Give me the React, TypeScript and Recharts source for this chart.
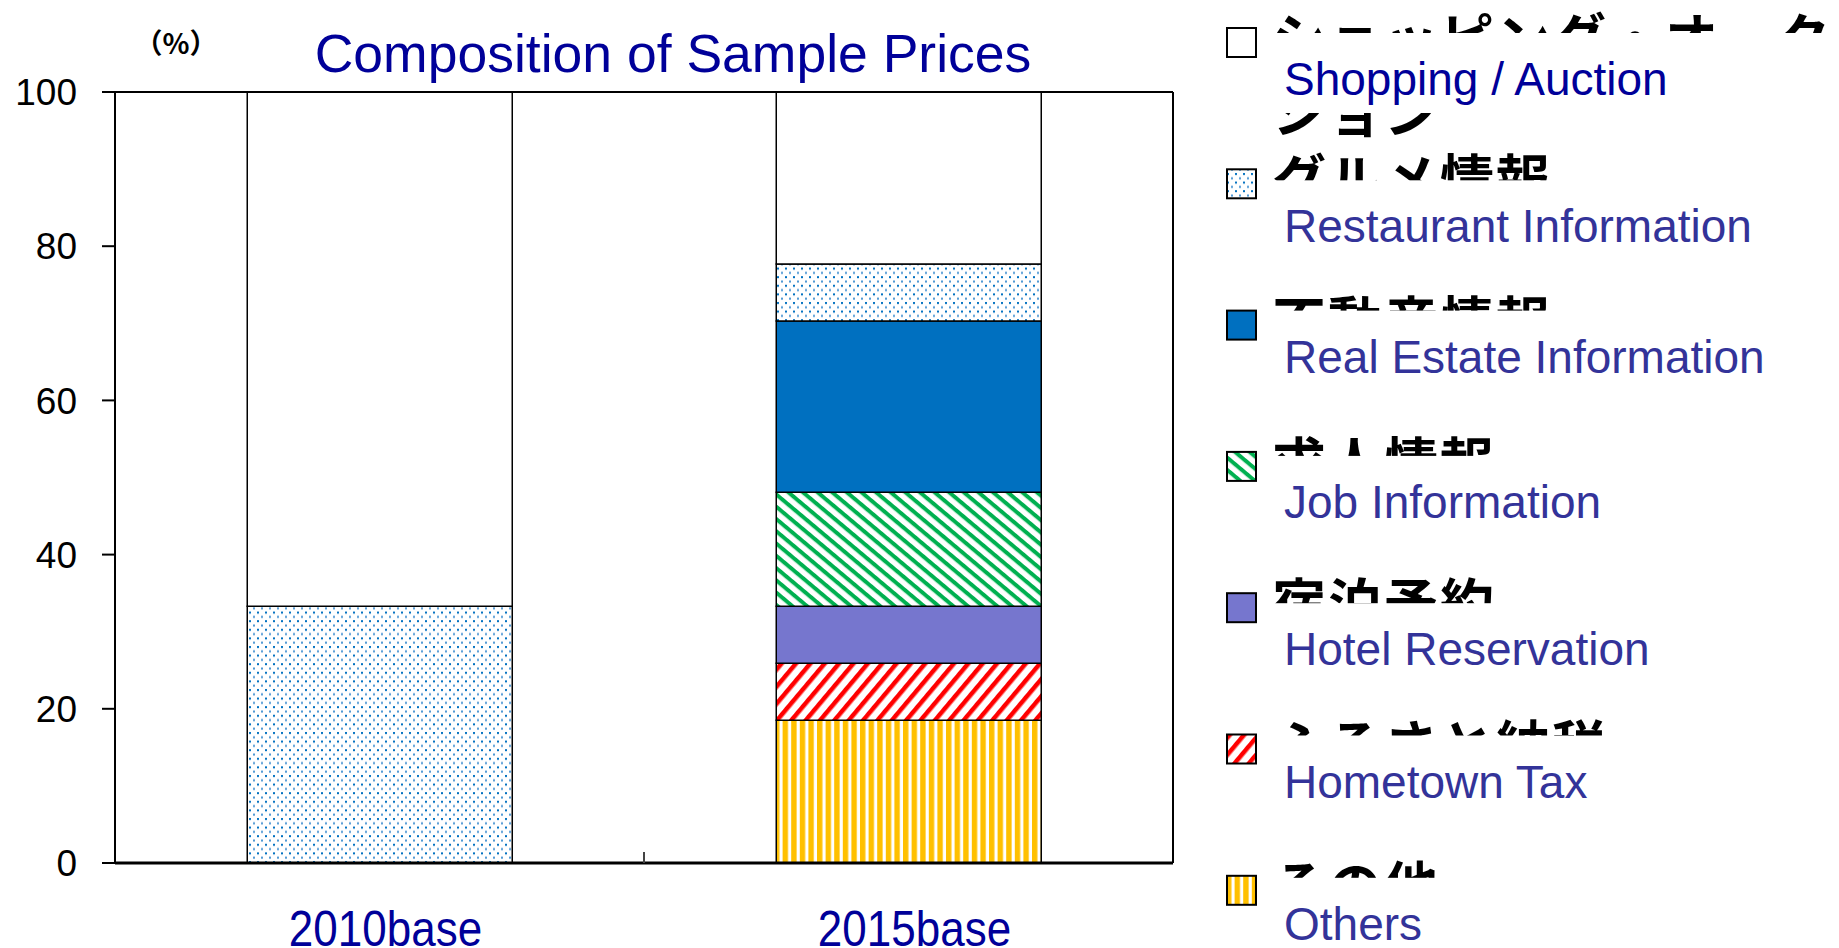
import React from 'react';
import { BarChart, Bar, XAxis, YAxis, Legend } from 'recharts';

// values, in % of sample prices
const categories = ['2010base', '2015base'];
const others = [0, 18.5];
const hometownTax = [0, 7.4];
const hotelReservation = [0, 7.4];
const jobInfo = [0, 14.8];
const realEstate = [0, 22.2];
const restaurant = [33.3, 7.4];
const shopping = [66.7, 22.3];
const yTicks = [0, 20, 40, 60, 80, 100];

const data = categories.map((name, i) => ({
  name,
  others: others[i],
  hometownTax: hometownTax[i],
  hotelReservation: hotelReservation[i],
  jobInfo: jobInfo[i],
  realEstate: realEstate[i],
  restaurant: restaurant[i],
  shopping: shopping[i],
}));

// stacking order, bottom to top
const series = [
  { key: 'others', ja: ['その他'], en: 'Others', fill: 'url(#patYellow)' },
  { key: 'hometownTax', ja: ['ふるさと納税'], en: 'Hometown Tax', fill: 'url(#patRed)' },
  { key: 'hotelReservation', ja: ['宿泊予約'], en: 'Hotel Reservation', fill: '#7676CE' },
  { key: 'jobInfo', ja: ['求人情報'], en: 'Job Information', fill: 'url(#patGreen)' },
  { key: 'realEstate', ja: ['不動産情報'], en: 'Real Estate Information', fill: '#0070C0' },
  { key: 'restaurant', ja: ['グルメ情報'], en: 'Restaurant Information', fill: 'url(#patDots)' },
  { key: 'shopping', ja: ['ショッピング・オーク', 'ション'], en: 'Shopping / Auction', fill: '#FFFFFF' },
];

const FONT = '"Liberation Sans", Arial, sans-serif';
const JA_FONT = '"Noto Sans CJK JP", sans-serif';

// legend layout (page px)
const LEG_Y0 = 42;
const LEG_STEP = 141.3;
const EN_OFF = [53, 59, 48, 52, 58, 49, 50];

const renderLegend = () => {
  const items = [...series].reverse();
  return (
    <svg width={612} height={948} style={{ position: 'absolute', left: 0, top: 0, overflow: 'hidden' }}>
      {items.map((s, i) => {
        const cy = LEG_Y0 + i * LEG_STEP;
        const enBase = cy + EN_OFF[i];
        return (
          <g key={s.key}>
            <rect x={1} y={cy - 14} width={29} height={29} fill={s.fill} stroke="#000" strokeWidth={2} />
            {s.ja.map((line, j) => (
              <text
                key={j}
                x={46}
                y={cy + 17 + j * 74}
                fontSize={54}
                fontWeight={700}
                letterSpacing={2}
                fontFamily={JA_FONT}
                fill="#000"
              >
                {line}
              </text>
            ))}
            <rect x={40} y={enBase - 62} width={580} height={80} fill="#fff" />
            <text
              x={58}
              y={enBase}
              fontSize={46}
              fontFamily={FONT}
              fill={i === 0 ? '#000099' : '#333399'}
            >
              {s.en}
            </text>
          </g>
        );
      })}
    </svg>
  );
};

// category label plus the short upward tick on the boundary after each band
const CategoryTick = (props: any) => {
  const { x, y, payload, index, width, visibleTicksCount } = props;
  const count = visibleTicksCount || categories.length;
  const half = width / count / 2;
  return (
    <g>
      {index < count - 1 && (
        <line x1={x + half} y1={y} x2={x + half} y2={y - 11} stroke="#444" strokeWidth={2} />
      )}
      <text
        transform={`translate(${x + 6},${y + 83}) scale(1,1.15)`}
        textAnchor="middle"
        fontSize={44}
        fontFamily={FONT}
        fill="#000099"
      >
        {payload.value}
      </text>
    </g>
  );
};

export default function App() {
  return (
    <div
      style={{
        position: 'absolute',
        left: 0,
        top: 0,
        width: 1839,
        height: 948,
        overflow: 'hidden',
        background: '#fff',
        fontFamily: FONT,
      }}
    >
      <BarChart
        width={1839}
        height={948}
        data={data}
        margin={{ top: 91, right: 665, bottom: 15, left: 15 }}
        barCategoryGap="25%"
      >
        <defs>
          <pattern id="patDots" patternUnits="userSpaceOnUse" width={8} height={8.6}>
            <rect width={8} height={8.6} fill="#fff" />
            <rect x={1} y={1} width={2} height={2} fill="#0070C0" />
            <rect x={5} y={5.3} width={2} height={2} fill="#4a95d2" />
          </pattern>
          <pattern id="patGreen" patternUnits="userSpaceOnUse" width={20} height={9.4} patternTransform="rotate(40)">
            <rect width={20} height={9.4} fill="#fff" />
            <rect width={20} height={4} fill="#00B050" />
          </pattern>
          <pattern id="patRed" patternUnits="userSpaceOnUse" width={20} height={11} patternTransform="rotate(-50)">
            <rect width={20} height={11} fill="#fff" />
            <rect width={20} height={4.5} fill="#FF0000" />
          </pattern>
          <pattern id="patYellow" patternUnits="userSpaceOnUse" width={8.6} height={10}>
            <rect width={8.6} height={10} fill="#fff" />
            <rect width={5.4} height={10} fill="#FFC000" />
          </pattern>
        </defs>

        <XAxis
          dataKey="name"
          height={70}
          interval={0}
          tickLine={false}
          tickSize={0}
          tickMargin={0}
          axisLine={{ stroke: '#000', strokeWidth: 3 }}
          tick={<CategoryTick />}
        />
        {/* top and right frame lines */}
        <XAxis
          xAxisId="top"
          orientation="top"
          dataKey="name"
          height={1}
          tick={false}
          tickLine={false}
          axisLine={{ stroke: '#000', strokeWidth: 2 }}
        />
        <YAxis
          yAxisId="right"
          orientation="right"
          width={1}
          domain={[0, 100]}
          tick={false}
          tickLine={false}
          axisLine={{ stroke: '#000', strokeWidth: 2 }}
        />
        <YAxis
          domain={[0, 100]}
          ticks={yTicks}
          interval={0}
          width={100}
          tickSize={13}
          tickMargin={25}
          axisLine={{ stroke: '#000', strokeWidth: 2 }}
          tickLine={{ stroke: '#000', strokeWidth: 2 }}
          tick={{ fill: '#000', fontSize: 37, fontFamily: FONT }}
        />

        {series.map((s) => (
          <Bar
            key={s.key}
            dataKey={s.key}
            stackId="a"
            fill={s.fill}
            stroke="#000"
            strokeWidth={1.5}
            isAnimationActive={false}
          />
        ))}

        <Legend
          content={renderLegend}
          wrapperStyle={{ left: 1226, top: 0, width: 0, height: 0, overflow: 'visible' }}
        />
      </BarChart>

      <svg
        width={1839}
        height={948}
        style={{ position: 'absolute', left: 0, top: 0, pointerEvents: 'none' }}
      >
        <text x={673} y={72} textAnchor="middle" fontSize={53.5} fontFamily={FONT} fill="#000099">
          Composition of Sample Prices
        </text>
        <text x={176} y={54} textAnchor="middle" fontSize={28} fontWeight={700} fontFamily={JA_FONT} fill="#000">
          （%）
        </text>
      </svg>
    </div>
  );
}
